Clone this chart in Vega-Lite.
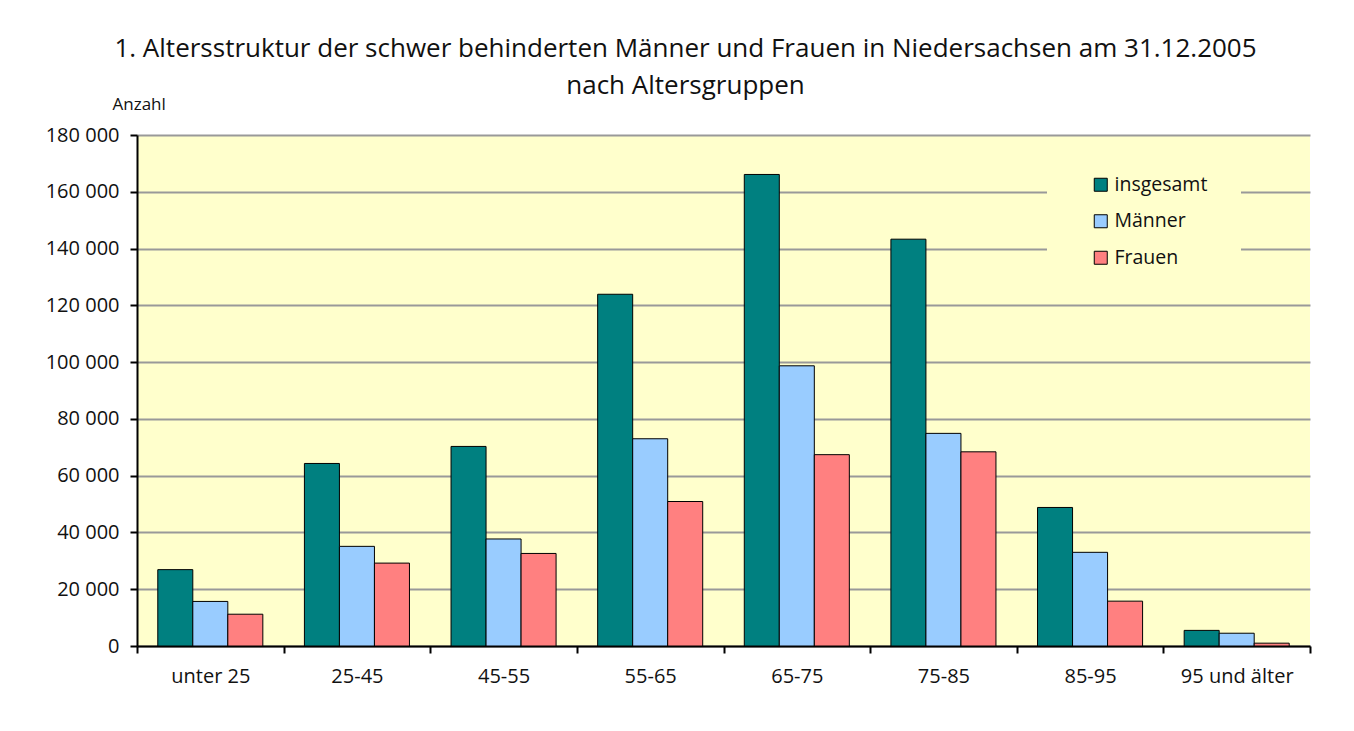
{
  "$schema": "https://vega.github.io/schema/vega-lite/v6.json",
  "autosize": "none",
  "width": 1173,
  "height": 511,
  "padding": {"left": 137, "top": 135, "right": 44, "bottom": 85},
  "background": "white",
  "title": {
    "text": ["1. Altersstruktur der schwer behinderten Männer und Frauen in Niedersachsen am 31.12.2005", "nach Altersgruppen"],
    "fontSize": 26,
    "fontWeight": "normal",
    "font": "Open Sans",
    "color": "#111111",
    "lineHeight": 37,
    "anchor": "middle",
    "dx": -38,
    "offset": -4
  },
  "data": {
    "values": [
      {"Altersgruppe": "unter 25", "Geschlecht": "insgesamt", "Anzahl": 26900},
      {"Altersgruppe": "unter 25", "Geschlecht": "Männer", "Anzahl": 15700},
      {"Altersgruppe": "unter 25", "Geschlecht": "Frauen", "Anzahl": 11200},
      {"Altersgruppe": "25-45", "Geschlecht": "insgesamt", "Anzahl": 64300},
      {"Altersgruppe": "25-45", "Geschlecht": "Männer", "Anzahl": 35100},
      {"Altersgruppe": "25-45", "Geschlecht": "Frauen", "Anzahl": 29200},
      {"Altersgruppe": "45-55", "Geschlecht": "insgesamt", "Anzahl": 70300},
      {"Altersgruppe": "45-55", "Geschlecht": "Männer", "Anzahl": 37700},
      {"Altersgruppe": "45-55", "Geschlecht": "Frauen", "Anzahl": 32600},
      {"Altersgruppe": "55-65", "Geschlecht": "insgesamt", "Anzahl": 123900},
      {"Altersgruppe": "55-65", "Geschlecht": "Männer", "Anzahl": 73000},
      {"Altersgruppe": "55-65", "Geschlecht": "Frauen", "Anzahl": 50900},
      {"Altersgruppe": "65-75", "Geschlecht": "insgesamt", "Anzahl": 166100},
      {"Altersgruppe": "65-75", "Geschlecht": "Männer", "Anzahl": 98700},
      {"Altersgruppe": "65-75", "Geschlecht": "Frauen", "Anzahl": 67400},
      {"Altersgruppe": "75-85", "Geschlecht": "insgesamt", "Anzahl": 143300},
      {"Altersgruppe": "75-85", "Geschlecht": "Männer", "Anzahl": 74900},
      {"Altersgruppe": "75-85", "Geschlecht": "Frauen", "Anzahl": 68400},
      {"Altersgruppe": "85-95", "Geschlecht": "insgesamt", "Anzahl": 48800},
      {"Altersgruppe": "85-95", "Geschlecht": "Männer", "Anzahl": 33000},
      {"Altersgruppe": "85-95", "Geschlecht": "Frauen", "Anzahl": 15800},
      {"Altersgruppe": "95 und älter", "Geschlecht": "insgesamt", "Anzahl": 5500},
      {"Altersgruppe": "95 und älter", "Geschlecht": "Männer", "Anzahl": 4500},
      {"Altersgruppe": "95 und älter", "Geschlecht": "Frauen", "Anzahl": 1000}
    ]
  },
  "mark": {"type": "bar", "stroke": "black", "strokeWidth": 1},
  "encoding": {
    "x": {
      "field": "Altersgruppe",
      "type": "nominal",
      "sort": ["unter 25", "25-45", "45-55", "55-65", "65-75", "75-85", "85-95", "95 und älter"],
      "scale": {"paddingInner": 0, "paddingOuter": 0},
      "axis": {
        "title": null,
        "labelAngle": 0,
        "tickBand": "extent",
        "domainColor": "black",
        "domainWidth": 2,
        "tickColor": "black",
        "tickWidth": 2,
        "tickSize": 7,
        "labelFontSize": 20,
        "labelPadding": 13,
        "labelColor": "#111111",
        "grid": false
      }
    },
    "xOffset": {
      "field": "Geschlecht",
      "sort": ["insgesamt", "Männer", "Frauen"],
      "scale": {"paddingInner": 0, "paddingOuter": 0.594}
    },
    "y": {
      "field": "Anzahl",
      "type": "quantitative",
      "scale": {"domain": [0, 180000], "nice": false},
      "axis": {
        "values": [0, 20000, 40000, 60000, 80000, 100000, 120000, 140000, 160000, 180000],
        "labelExpr": "replace(format(datum.value, ',d'), /,/g, ' ')",
        "title": "Anzahl",
        "titleAngle": 0,
        "titleX": -25,
        "titleY": -26,
        "titleAlign": "left",
        "titleBaseline": "alphabetic",
        "titleFontSize": 17,
        "titleFontWeight": "normal",
        "titleColor": "#111111",
        "domainColor": "black",
        "domainWidth": 2,
        "tickColor": "black",
        "tickWidth": 2,
        "tickSize": 7,
        "labelFontSize": 20,
        "labelPadding": 11,
        "labelColor": "#111111",
        "grid": true,
        "gridColor": "#999999",
        "gridWidth": 2
      }
    },
    "color": {
      "field": "Geschlecht",
      "type": "nominal",
      "sort": ["insgesamt", "Männer", "Frauen"],
      "scale": {"domain": ["insgesamt", "Männer", "Frauen"], "range": ["#008080", "#99CCFF", "#FF8080"]},
      "legend": {
        "title": null,
        "orient": "none",
        "legendX": 910,
        "legendY": 7,
        "fillColor": "#FFFFCC",
        "padding": 33,
        "symbolOffset": 11,
        "symbolType": "square",
        "symbolSize": 169,
        "symbolStrokeColor": "black",
        "symbolStrokeWidth": 1,
        "labelFontSize": 19.5,
        "labelColor": "#111111",
        "labelOffset": 4,
        "rowPadding": 15.5
      }
    }
  },
  "config": {
    "view": {"fill": "#FFFFCC", "stroke": null},
    "font": "Open Sans"
  }
}
